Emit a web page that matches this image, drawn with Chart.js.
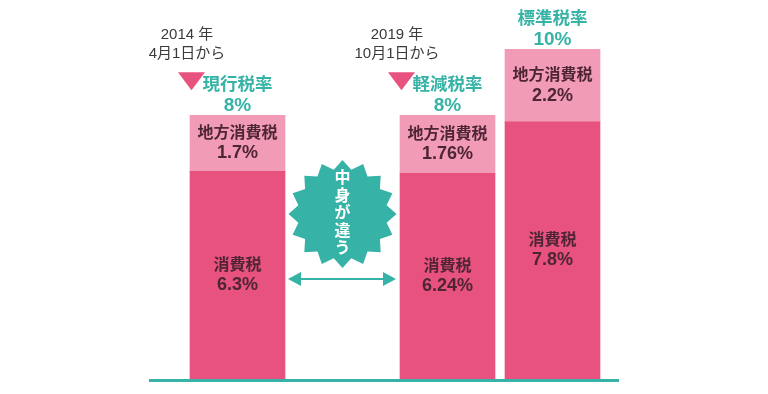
<!DOCTYPE html>
<html lang="ja">
<head>
<meta charset="utf-8">
<script src="https://cdn.jsdelivr.net/npm/chart.js@4"></script>
<style>
  html, body { margin: 0; padding: 0; background: #fff; }
  #wrap { width: 768px; height: 394px; position: relative; }
</style>
</head>
<body>
<div id="wrap"><canvas id="chart"></canvas></div>
<script>
// 税率の内訳 (%)
const categories = ["現行税率", "中身が違う", "軽減税率", "標準税率"];
const nationalTax = [6.3, null, 6.24, 7.8]; // 消費税
const localTax = [1.7, null, 1.76, 2.2]; // 地方消費税
const startDates = [["2014 年", "4月1日から"], null, ["2019 年", "10月1日から"], null];
const seriesNames = ["消費税", "地方消費税"];

const TEAL = "#36b3a6";
const PINK = "#e8527f";
const LIGHT_PINK = "#f29bb6";
const DARK_TEXT = "#4e2535";
const FONT = '"Liberation Sans", "Noto Sans CJK JP", sans-serif';

const pct = (v) => `${Math.round(v * 100) / 100}%`;

// 棒の中・上の文字、バッジ、矢印、ベースライン
const decorations = {
  id: "decorations",
  afterDatasetsDraw(chart) {
    const { ctx, chartArea } = chart;
    const low = chart.getDatasetMeta(0).data;
    const high = chart.getDatasetMeta(1).data;
    ctx.save();
    ctx.textAlign = "center";
    ctx.textBaseline = "middle";

    categories.forEach((name, i) => {
      if (nationalTax[i] == null) return;
      const b0 = low[i], b1 = high[i];
      const left = b0.x - b0.width / 2;

      // 棒の中のラベル
      [[b0, seriesNames[0], nationalTax[i]], [b1, seriesNames[1], localTax[i]]].forEach(([bar, label, v]) => {
        const cy = (bar.y + bar.base) / 2;
        ctx.fillStyle = DARK_TEXT;
        ctx.font = `bold 16px ${FONT}`;
        ctx.fillText(label, bar.x, cy - 10);
        ctx.font = `bold 18px ${FONT}`;
        ctx.fillText(pct(v), bar.x, cy + 10);
      });

      // 棒の上の税率
      const top = b1.y;
      ctx.fillStyle = TEAL;
      ctx.font = `bold 17.5px ${FONT}`;
      ctx.fillText(name, b1.x, top - 30);
      ctx.font = `bold 19px ${FONT}`;
      ctx.fillText(pct(nationalTax[i] + localTax[i]), b1.x, top - 10);

      // 開始日と三角
      if (startDates[i]) {
        ctx.fillStyle = PINK;
        ctx.beginPath();
        ctx.moveTo(left - 12, top - 43);
        ctx.lineTo(left + 15, top - 43);
        ctx.lineTo(left + 1.5, top - 25);
        ctx.closePath();
        ctx.fill();
        ctx.fillStyle = "#3a3a3a";
        ctx.font = `15px ${FONT}`;
        ctx.fillText(startDates[i][0], left - 3, top - 80);
        ctx.fillText(startDates[i][1], left - 3, top - 61);
      }
    });

    // 「中身が違う」バッジ
    const gx = chart.scales.x.getPixelForValue(1);
    const gy = chartArea.bottom - 165;
    const spikes = 16, rOut = 54, rIn = 45;
    ctx.fillStyle = TEAL;
    ctx.beginPath();
    for (let k = 0; k < spikes * 2; k++) {
      const r = k % 2 === 0 ? rOut : rIn;
      const a = -Math.PI / 2 + (k * Math.PI) / spikes;
      const px = gx + r * Math.cos(a), py = gy + r * Math.sin(a);
      k === 0 ? ctx.moveTo(px, py) : ctx.lineTo(px, py);
    }
    ctx.closePath();
    ctx.fill();
    ctx.fillStyle = "#fff";
    ctx.font = `bold 16px ${FONT}`;
    const chars = [...categories[1]];
    chars.forEach((c, k) => {
      ctx.fillText(c, gx, gy + (k - (chars.length - 1) / 2) * 17.5);
    });

    // 両矢印
    const ay = chartArea.bottom - 100;
    const ax0 = low[0].x + low[0].width / 2 + 3;
    const ax1 = low[2].x - low[2].width / 2 - 4;
    ctx.strokeStyle = TEAL;
    ctx.fillStyle = TEAL;
    ctx.lineWidth = 2;
    ctx.beginPath();
    ctx.moveTo(ax0 + 8, ay);
    ctx.lineTo(ax1 - 8, ay);
    ctx.stroke();
    ctx.beginPath();
    ctx.moveTo(ax0, ay);
    ctx.lineTo(ax0 + 13, ay - 7);
    ctx.lineTo(ax0 + 13, ay + 7);
    ctx.closePath();
    ctx.moveTo(ax1, ay);
    ctx.lineTo(ax1 - 13, ay - 7);
    ctx.lineTo(ax1 - 13, ay + 7);
    ctx.closePath();
    ctx.fill();

    // ベースライン
    ctx.lineWidth = 3;
    ctx.beginPath();
    ctx.moveTo(149, chartArea.bottom + 1.5);
    ctx.lineTo(619, chartArea.bottom + 1.5);
    ctx.stroke();
    ctx.restore();
  },
};

new Chart(document.getElementById("chart"), {
  type: "bar",
  data: {
    labels: categories,
    datasets: [
      { label: seriesNames[0], data: nationalTax, backgroundColor: PINK },
      { label: seriesNames[1], data: localTax, backgroundColor: LIGHT_PINK },
    ],
  },
  options: {
    responsive: true,
    maintainAspectRatio: false,
    animation: false,
    barThickness: 95,
    layout: { padding: { left: 185, right: 163, top: 0, bottom: 15 } },
    plugins: { legend: { display: false }, tooltip: { enabled: false } },
    scales: {
      x: { stacked: true, display: false },
      y: { stacked: true, display: false, min: 0, max: 11.5 },
    },
  },
  plugins: [decorations],
});
</script>
</body>
</html>
